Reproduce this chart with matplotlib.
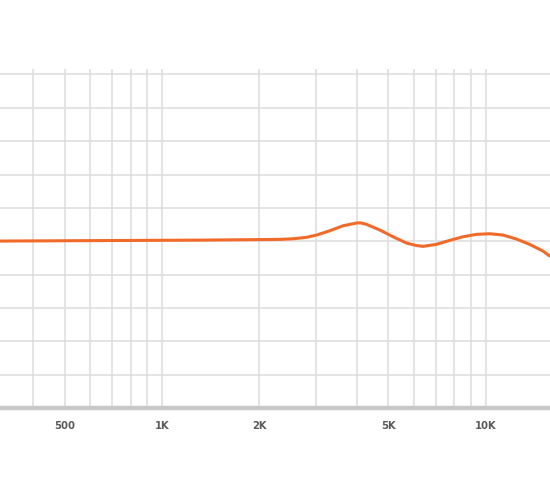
import matplotlib
matplotlib.use("Agg")
import matplotlib.pyplot as plt
from matplotlib.ticker import FixedLocator, NullFormatter

# Frequency response readings (Hz, dB)
freqs = [316, 644, 1310, 2000, 2313, 2543, 2796, 3002, 3300, 3627, 3990, 4100,
         4283, 4709, 5175, 5690, 6111, 6405, 7043, 7743, 8511, 9361, 10290,
         11310, 12440, 13670, 15030, 15760]
response_db = [0.03, 0.10, 0.17, 0.25, 0.28, 0.375, 0.585, 0.93, 1.575, 2.325, 2.73, 2.76,
               2.535, 1.68, 0.675, -0.27, -0.645, -0.765, -0.465, 0.135, 0.675, 1.035, 1.125,
               0.93, 0.33, -0.465, -1.47, -2.22]

major_ticks = [500, 1000, 2000, 5000, 10000]
major_labels = ["500", "1K", "2K", "5K", "10K"]
minor_ticks = [400, 600, 700, 800, 900, 3000, 4000, 6000, 7000, 8000, 9000]
y_grid = [-20, -15, -10, -5, 0, 5, 10, 15, 20, 25]

fig = plt.figure(figsize=(5.5, 4.82), dpi=100)
ax = fig.add_axes([0.0, 0.1535, 1.0, 0.7033])

grid_color = "#dddddd"
for f in major_ticks + minor_ticks:
    ax.axvline(f, color=grid_color, lw=1.1, zorder=1)
for v in y_grid:
    ax.axhline(v, color=grid_color, lw=1.1, zorder=1)

ax.plot(freqs, response_db, color="#f26a2a", lw=2.2, zorder=3,
        solid_joinstyle="round", solid_capstyle="round")

ax.set_xscale("log")
ax.set_xlim(316, 15800)
ax.set_ylim(-25, 25.82)

ax.xaxis.set_major_locator(FixedLocator(major_ticks))
ax.set_xticklabels(major_labels)
ax.xaxis.set_minor_locator(FixedLocator(minor_ticks))
ax.xaxis.set_minor_formatter(NullFormatter())
ax.set_yticks([])
ax.tick_params(axis="x", which="both", length=0, pad=9)
for lbl in ax.get_xticklabels():
    lbl.set_family(["DejaVu Sans"])
    lbl.set_fontstretch("condensed")
    lbl.set_fontweight("bold")
    lbl.set_fontsize(8)
    lbl.set_color("#5a5a5a")

for side in ["top", "left", "right"]:
    ax.spines[side].set_visible(False)
ax.spines["bottom"].set_color("#c8c8c8")
ax.spines["bottom"].set_linewidth(3.2)
ax.spines["bottom"].set_zorder(4)

fig.savefig("out.png", dpi=100)
